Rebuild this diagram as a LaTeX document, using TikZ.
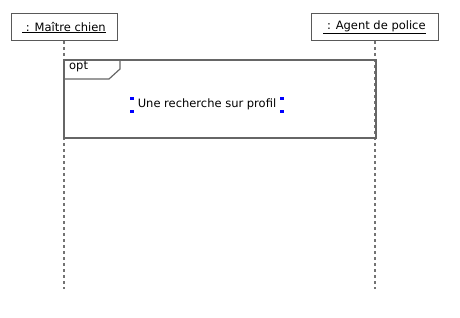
\documentclass[tikz,border=0pt]{standalone}
\usepackage{fontspec}
\setmainfont{DejaVu Sans}
\begin{document}
\begin{tikzpicture}[x=1pt,y=-1pt,
  lifebox/.style={draw=black!65,line width=1pt,fill=white,minimum height=27pt,inner xsep=0pt,font=\fontsize{11.5}{13}\selectfont},
  lifeline/.style={draw=black!55,line width=1.2pt,dash pattern=on 3pt off 3pt},
  frame/.style={draw=black!60,line width=1.2pt},
  lbl/.style={font=\fontsize{11.5}{13}\selectfont,inner sep=0pt},
  handle/.style={fill=blue,draw=none,minimum size=3.5pt,inner sep=0pt}]
\useasboundingbox (0,0) rectangle (460,318);
% lifeline heads
\node[lifebox,minimum width=106pt] (m) at (64,27.5) {\underline{\ : Maître chien}};
\node[lifebox,minimum width=127pt] (p) at (374.5,27.5) {\underline{\ : Agent de police}};
\coordinate (mstart) at (64,41);
\coordinate (pstart) at (375,41);
\coordinate (mend) at (64,289);
\coordinate (pend) at (375,289);
\draw[lifeline] (mstart) -- (mend);
\draw[lifeline] (pstart) -- (pend);
% combined fragment
\draw[frame] (64,60) rectangle (376,138);
\draw[frame] (64,79) -- (109,79) -- (120,69) -- (120,60);
\node[lbl,anchor=west] (opt) at (69,67) {opt};
% guard text with selection handles
\node[lbl] (txt) at (207,104.5) {Une recherche sur profil};
\node[handle] (h1) at (132,98.5) {};
\node[handle] (h2) at (282,98.5) {};
\node[handle] (h3) at (132,111.5) {};
\node[handle] (h4) at (282,111.5) {};
\end{tikzpicture}
\end{document}
